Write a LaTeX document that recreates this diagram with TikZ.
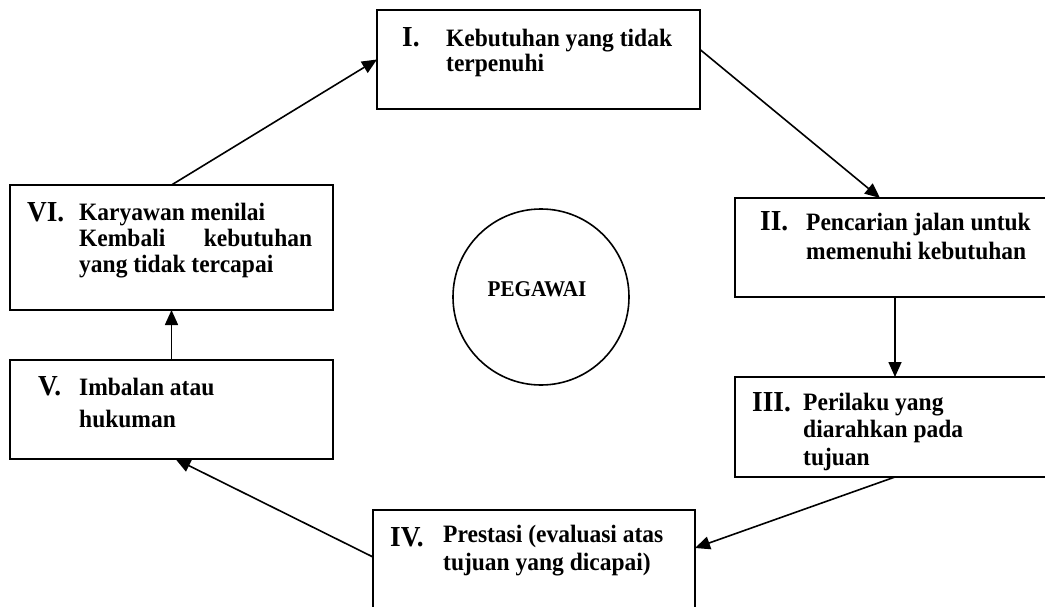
\documentclass[tikz,border=0pt]{standalone}
\usepackage{fontspec}
\setmainfont{Liberation Serif}[FakeStretch=0.94]
\usetikzlibrary{arrows.meta}
% top-aligned block of text: first baseline sits on the node's base anchor
\newcommand{\cyctext}[2]{\parbox[t]{#1}{\raggedright #2}}
\begin{document}
\begin{tikzpicture}[x=1pt,y=-1pt,
  stagebox/.style={draw, line width=1.6pt, rectangle, inner sep=0pt, outer sep=0pt},
  hub/.style={draw, line width=1.6pt, circle, inner sep=0pt, minimum size=176pt},
  stagetext/.style={anchor=base west, inner sep=0pt, font=\bfseries\fontsize{25}{#1}\selectfont},
  stagetext/.default=27,
  numeral/.style={anchor=base west, inner sep=0pt, font=\bfseries\fontsize{29}{32}\selectfont},
  flow/.style={line width=1.6pt, -{Triangle[length=15pt,width=13pt]}}]
\useasboundingbox (0,0) rectangle (1045,607);
\clip (0,0) rectangle (1045,607);

% stage boxes
\node[stagebox, minimum width=323pt, minimum height=99pt]  (b1) at (538.5,59.5) {};
\node[stagebox, minimum width=320pt, minimum height=99pt]  (b2) at (895,247.5) {};
\node[stagebox, minimum width=320pt, minimum height=100pt] (b3) at (895,427) {};
\node[stagebox, minimum width=322pt, minimum height=120pt] (b4) at (534,570) {};
\node[stagebox, minimum width=323pt, minimum height=99pt]  (b5) at (171.5,409.5) {};
\node[stagebox, minimum width=323pt, minimum height=125pt] (b6) at (171.5,247.5) {};

% central circle
\node[hub] (hub) at (541,297) {};
\node[anchor=base, inner sep=0pt, font=\bfseries\fontsize{22.5}{26}\selectfont] (hubtext) at (537,296) {PEGAWAI};

% numerals
\node[numeral] (n1) at (402,47)  {I.};
\node[numeral] (n2) at (760,230) {II.};
\node[numeral] (n3) at (752,411) {III.};
\node[numeral] (n4) at (390,546) {IV.};
\node[numeral] (n5) at (38,395)  {V.};
\node[numeral] (n6) at (27,222)  {VI.};

% stage texts
\node[stagetext=24.3] (t1) at (446,47)  {\cyctext{250pt}{Kebutuhan yang tidak\\terpenuhi}};
\node[stagetext=29]   (t2) at (806,230) {\cyctext{250pt}{Pencarian jalan untuk\\memenuhi kebutuhan}};
\node[stagetext=27.5] (t3) at (803,410) {\cyctext{230pt}{Perilaku yang\\diarahkan pada\\tujuan}};
\node[stagetext=28]   (t4) at (443,542) {\cyctext{250pt}{Prestasi (evaluasi atas\\tujuan yang dicapai)}};
\node[stagetext=32]   (t5) at (79,395)  {\cyctext{240pt}{Imbalan atau\\hukuman}};
\node[stagetext=26.5] (t6) at (79,220)  {\cyctext{233pt}{Karyawan menilai\\Kembali\hfill kebutuhan\\yang tidak tercapai}};

% cycle connectors
\draw[flow] (b6.north) -- (b1.west);
\draw[flow] ([yshift=10pt]b1.east) -- ([xshift=-15pt]b2.north);
\draw[flow] (b2.south) -- (b3.north);
\draw[flow] (b3.south) -- ([yshift=22pt]b4.east);
\draw[flow] ([yshift=13pt]b4.west) -- ([xshift=4pt]b5.south);
\draw[flow] (b5.north) -- (b6.south);
\end{tikzpicture}
\end{document}
